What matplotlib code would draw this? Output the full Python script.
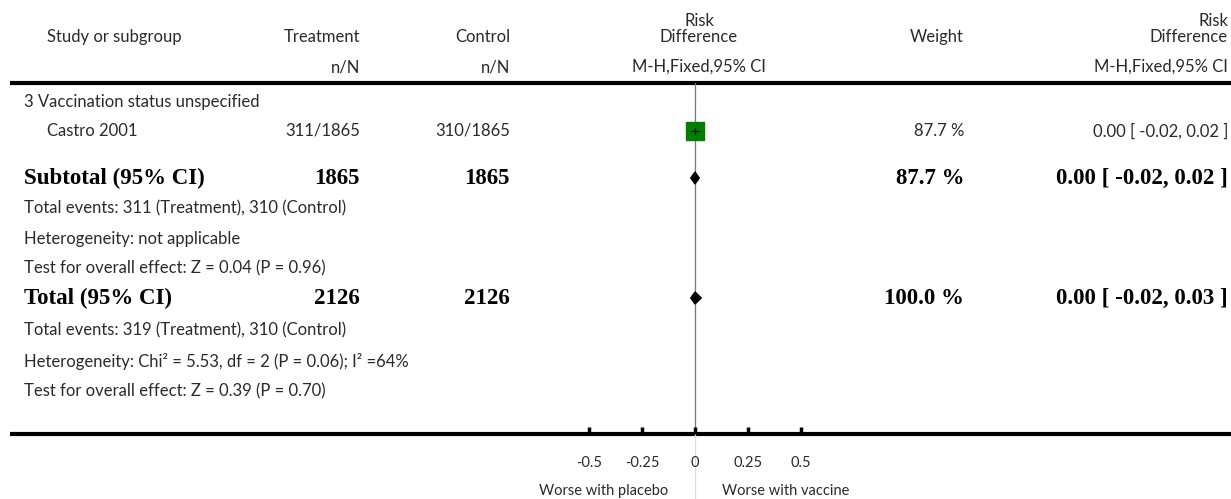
import matplotlib
matplotlib.use("Agg")
import matplotlib.pyplot as plt
from matplotlib.patches import Polygon

# --- data ---
subgroup = "3 Vaccination status unspecified"
studies = ["Castro 2001"]
treat_nN = ["311/1865"]
ctrl_nN = ["310/1865"]
study_rd = [0.00]
study_lo = [-0.02]
study_hi = [0.02]
study_weight = ["87.7 %"]
study_ci_txt = ["0.00 [ -0.02, 0.02 ]"]

subtotal_n = ["1865", "1865"]
subtotal_rd, subtotal_lo, subtotal_hi = 0.00, -0.02, 0.02
subtotal_weight = "87.7 %"
subtotal_ci_txt = "0.00 [ -0.02, 0.02 ]"
subtotal_notes = ["Total events: 311 (Treatment), 310 (Control)",
                  "Heterogeneity: not applicable",
                  "Test for overall effect: Z = 0.04 (P = 0.96)"]

total_n = ["2126", "2126"]
total_rd, total_lo, total_hi = 0.00, -0.02, 0.03
total_weight = "100.0 %"
total_ci_txt = "0.00 [ -0.02, 0.03 ]"
total_notes = ["Total events: 319 (Treatment), 310 (Control)",
               "Heterogeneity: Chi\u00b2 = 5.53, df = 2 (P = 0.06); I\u00b2 =64%",
               "Test for overall effect: Z = 0.39 (P = 0.70)"]

ticks = [-0.5, -0.25, 0, 0.25, 0.5]
tick_labels = ["-0.5", "-0.25", "0", "0.25", "0.5"]
favours = ["Worse with placebo", "Worse with vaccine"]

W, H = 1231, 499
fig = plt.figure(figsize=(W / 100, H / 100), dpi=100)

# text layer in pixel coordinates
ax = fig.add_axes([0, 0, 1, 1])
ax.set_xlim(0, W)
ax.set_ylim(H, 0)
ax.axis("off")

# forest layer: x in risk-difference units (0 at px 695, 212 px per unit)
x0, scale = 695, 212
fx = fig.add_axes([0, 0, 1, 1])
fx.set_xlim(-x0 / scale, (W - x0) / scale)
fx.set_ylim(H, 0)
fx.axis("off")
fx.patch.set_alpha(0)

reg = dict(family=["Lato", "DejaVu Sans"], fontweight="normal", fontsize=12, color="#2a2a2a")
small = dict(reg, fontsize=10.5)
bold = dict(family=["Liberation Serif", "DejaVu Serif"], fontweight="bold", fontsize=16.5, color="black")

# headers
ax.text(47, 37, "Study or subgroup", ha="left", va="center", **reg)
ax.text(360, 37, "Treatment", ha="right", va="center", **reg)
ax.text(510, 37, "Control", ha="right", va="center", **reg)
ax.text(360, 67, "n/N", ha="right", va="center", **reg)
ax.text(510, 67, "n/N", ha="right", va="center", **reg)
ax.text(699, 29, "Risk\nDifference", ha="center", va="center", linespacing=1.05, **reg)
ax.text(699, 67, "M-H,Fixed,95% CI", ha="center", va="center", **reg)
ax.text(964, 37, "Weight", ha="right", va="center", **reg)
ax.text(1228, 29, "Risk\nDifference", ha="right", va="center", linespacing=1.05, multialignment="right", **reg)
ax.text(1228, 67, "M-H,Fixed,95% CI", ha="right", va="center", **reg)

ax.plot([10, W], [83, 83], color="black", lw=3, solid_capstyle="butt")
ax.plot([10, W], [434, 434], color="black", lw=3, solid_capstyle="butt")

# subgroup + study rows
ax.text(24, 102, subgroup, ha="left", va="center", **reg)
study_y = [131]
for i, name in enumerate(studies):
    y = study_y[i]
    ax.text(47, y, name, ha="left", va="center", **reg)
    ax.text(360, y, treat_nN[i], ha="right", va="center", **reg)
    ax.text(510, y, ctrl_nN[i], ha="right", va="center", **reg)
    ax.text(964, y, study_weight[i], ha="right", va="center", **reg)
    ax.text(1228, y, study_ci_txt[i], ha="right", va="center", **reg)

# vertical line of no effect
fx.plot([0, 0], [83, 434], color="#777777", lw=0.9, zorder=1)
fx.plot([0, 0], [434, H], color="#dddddd", lw=0.9, zorder=1)

for i in range(len(studies)):
    y = study_y[i]
    fx.plot([study_rd[i]], [y], marker="s", ms=13.5, color="#008000", mec="#008000", zorder=3)
    fx.plot([study_lo[i], study_hi[i]], [y, y], color="black", lw=0.9, zorder=4)
    fx.plot([study_rd[i], study_rd[i]], [y - 3, y + 3], color="black", lw=0.9, zorder=4)


def diamond(y, est, lo, hi, h=6):
    fx.add_patch(Polygon([[lo, y], [est, y - h], [hi, y], [est, y + h]],
                         closed=True, color="black", zorder=3))


# subtotal
ax.text(24, 178, "Subtotal (95% CI)", ha="left", va="center", **bold)
ax.text(360, 178, subtotal_n[0], ha="right", va="center", **bold)
ax.text(510, 178, subtotal_n[1], ha="right", va="center", **bold)
ax.text(964, 178, subtotal_weight, ha="right", va="center", **bold)
ax.text(1228, 178, subtotal_ci_txt, ha="right", va="center", **bold)
diamond(178, subtotal_rd, subtotal_lo, subtotal_hi)
for y, t in zip([208, 239, 268], subtotal_notes):
    ax.text(24, y, t, ha="left", va="center", **reg)

# total
ax.text(24, 298, "Total (95% CI)", ha="left", va="center", **bold)
ax.text(360, 298, total_n[0], ha="right", va="center", **bold)
ax.text(510, 298, total_n[1], ha="right", va="center", **bold)
ax.text(964, 298, total_weight, ha="right", va="center", **bold)
ax.text(1228, 298, total_ci_txt, ha="right", va="center", **bold)
diamond(298, total_rd, total_lo, total_hi)
for y, t in zip([330, 361, 391], total_notes):
    ax.text(24, y, t, ha="left", va="center", **reg)

# axis ticks
for t, lab in zip(ticks, tick_labels):
    fx.plot([t, t], [434, 427], color="black", lw=2.5, solid_capstyle="butt")
    fx.text(t, 463, lab, ha="center", va="center", **small)
ax.text(668, 491, favours[0], ha="right", va="center", **small)
ax.text(722, 491, favours[1], ha="left", va="center", **small)

fig.savefig("out.png", dpi=100)
